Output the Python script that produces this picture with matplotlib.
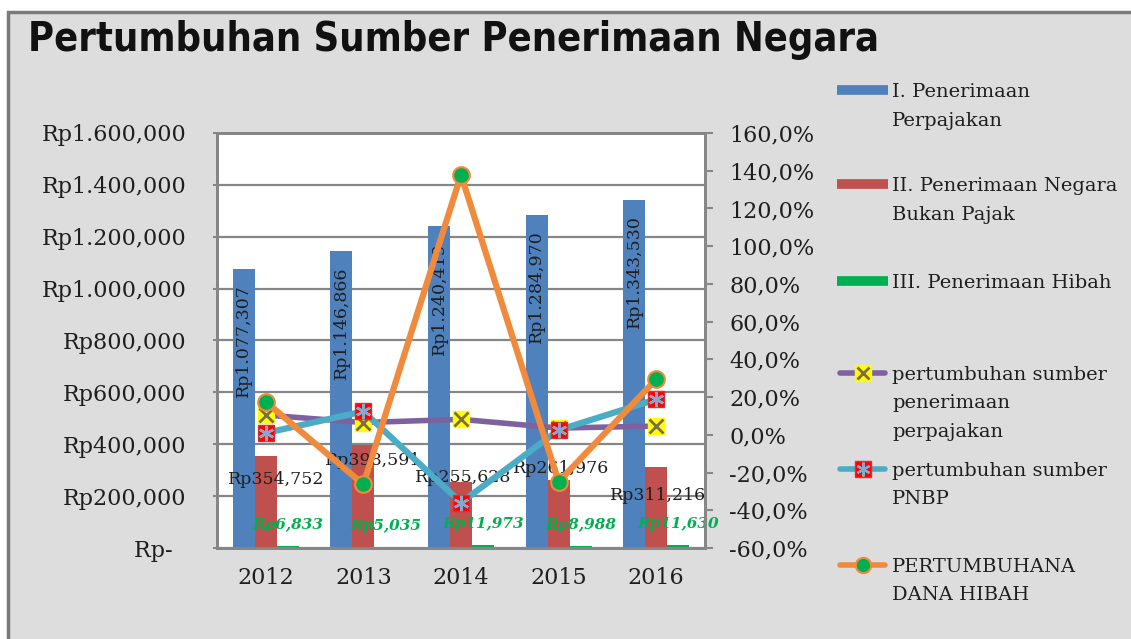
"""
Pertumbuhan Sumber Penerimaan Negara: bars (penerimaan) + growth lines on a
secondary percent axis. Saves out.png (1131x639).
"""
import numpy as np
import matplotlib.pyplot as plt
from matplotlib.patches import Rectangle
from matplotlib.lines import Line2D

YEARS = ["2012", "2013", "2014", "2015", "2016"]

# Penerimaan (Rp miliar)
PAJAK = [1077307, 1146866, 1240419, 1284970, 1343530]
PNBP = [354752, 398591, 255628, 261976, 311216]
HIBAH = [6833, 5035, 11973, 8988, 11630]

# Pertumbuhan (%)
GROWTH_PAJAK = [10.5, 6.5, 8.2, 3.6, 4.6]
GROWTH_PNBP = [1.0, 12.4, -35.9, 2.5, 18.8]
GROWTH_HIBAH = [17.5, -26.3, 137.8, -24.9, 29.4]

LEFT_TICKS = [0, 200000, 400000, 600000, 800000, 1000000, 1200000, 1400000, 1600000]
RIGHT_TICKS = [-60, -40, -20, 0, 20, 40, 60, 80, 100, 120, 140, 160]

W, H = 1131, 639
SERIF = ["DejaVu Serif"]
TXT = "#1e1e1e"
GRAY = "#868686"

C_BLUE, C_RED, C_GREEN = "#4F81BD", "#C0504D", "#00B050"
C_PURPLE, C_TEAL, C_ORANGE = "#7E62A0", "#4BACC6", "#F08A3C"


def rp(v):
    if v == 0:
        return "Rp-  "
    if v >= 1000000:
        return f"Rp{v // 1000000}.{(v // 1000) % 1000:03d},{v % 1000:03d}"
    return f"Rp{v:,}"


def pct(v):
    return f"{v:.1f}%".replace(".", ",")


fig = plt.figure(figsize=(W / 100, H / 100), dpi=100, facecolor="white")

# grey panel with a frame on left/top
fig.patches.append(Rectangle((8 / W, -0.05), 1.0, 1 - 12 / H + 0.05,
                             transform=fig.transFigure, facecolor="#dddddd",
                             edgecolor="#7a7a7a", lw=2.5, zorder=-10))

fig.text(28 / W, 1 - 40 / H, "Pertumbuhan Sumber Penerimaan Negara",
         fontsize=28.5, fontweight="bold", fontstretch="condensed",
         va="center", ha="left", family=["DejaVu Sans"], color="#111111")

ax = fig.add_axes([217 / W, (H - 548) / H, (705 - 217) / W, (548 - 133) / H])
ax.set_facecolor("white")
x = np.arange(len(YEARS))
bw = 0.225

ax.bar(x - bw, PAJAK, bw, color=C_BLUE, zorder=2)
ax.bar(x, PNBP, bw, color=C_RED, zorder=2)
ax.bar(x + bw, HIBAH, bw, color=C_GREEN, zorder=2)

ax.set_xlim(-0.5, len(YEARS) - 0.5)
ax.set_ylim(0, 1600000)
ax.set_yticks(LEFT_TICKS)
ax.set_yticklabels([rp(v) for v in LEFT_TICKS], fontsize=16, family=SERIF, color=TXT)
ax.set_xticks(x)
ax.set_xticklabels(YEARS, fontsize=16, family=SERIF, color=TXT)
ax.tick_params(axis="x", length=0, pad=14)
ax.tick_params(axis="y", length=3, width=1.5, color=GRAY, pad=19)
ax.grid(axis="y", color=GRAY, lw=1.6, zorder=1)
ax.set_axisbelow(True)
for s in ax.spines.values():
    s.set_color(GRAY)
    s.set_linewidth(2)

# bar labels
for xi, v in zip(x, PAJAK):
    ax.annotate(rp(v), (xi - bw, v), xytext=(0, -16), textcoords="offset pixels",
                rotation=90, ha="center", va="top", fontsize=12.5,
                family=SERIF, color=TXT, zorder=3)

pnbp_off = [(10, -24), (10, -16), (2, 4), (3, 12), (2, -28)]
for xi, v, (dx, dy) in zip(x, PNBP, pnbp_off):
    ax.annotate(rp(v), (xi, v), xytext=(dx, dy), textcoords="offset pixels",
                ha="center", va="center", fontsize=12.5, family=SERIF,
                color=TXT, zorder=3)

for xi, v in zip(x, HIBAH):
    ax.annotate(rp(v), (xi + bw, v), xytext=(0, 21), textcoords="offset pixels",
                ha="center", va="center", fontsize=11, family=SERIF,
                fontweight="bold", fontstyle="italic", color=C_GREEN, zorder=3)

# growth lines on secondary axis
ax2 = ax.twinx()
ax2.set_ylim(-60, 160)
ax2.set_yticks(RIGHT_TICKS)
ax2.set_yticklabels([pct(v) for v in RIGHT_TICKS], fontsize=16, family=SERIF, color=TXT)
ax2.tick_params(axis="y", length=6, width=1.5, color=GRAY, pad=11.5)
for s in ax2.spines.values():
    s.set_color(GRAY)
    s.set_linewidth(2)

ax2.plot(x, GROWTH_PAJAK, color=C_PURPLE, lw=4, solid_capstyle="round", zorder=3)
ax2.plot(x, GROWTH_PAJAK, ls="none", marker="s", ms=12, mfc="#FFFF00",
         mec="#FFFF00", zorder=4)
ax2.plot(x, GROWTH_PAJAK, ls="none", marker="x", ms=10, mew=2,
         mec="#7d6b4a", zorder=4)

ax2.plot(x, GROWTH_PNBP, color=C_TEAL, lw=4.5, solid_capstyle="round", zorder=5)
ax2.plot(x, GROWTH_PNBP, ls="none", marker="s", ms=12, mfc="#FF0000",
         mec="#D83030", zorder=6)
ax2.plot(x, GROWTH_PNBP, ls="none", marker=(6, 2, 0), ms=11, mew=1.8,
         mec="#8AA6C8", zorder=6)

ax2.plot(x, GROWTH_HIBAH, color=C_ORANGE, lw=4.5, solid_capstyle="round", zorder=7)
ax2.plot(x, GROWTH_HIBAH, ls="none", marker="o", ms=12, mfc=C_GREEN,
         mec=C_ORANGE, mew=1.5, zorder=8)

# legend drawn by hand on a pixel-space overlay
lg = fig.add_axes([0, 0, 1, 1], facecolor="none")
lg.set_xlim(0, W)
lg.set_ylim(H, 0)
lg.axis("off")

hx0, hx1, tx = 837, 888, 892
entries = [
    ("bar", C_BLUE, 90, ["I. Penerimaan", "Perpajakan"]),
    ("bar", C_RED, 184, ["II. Penerimaan Negara", "Bukan Pajak"]),
    ("bar", C_GREEN, 281, ["III. Penerimaan Hibah"]),
    ("pajak", C_PURPLE, 373, ["pertumbuhan sumber", "penerimaan", "perpajakan"]),
    ("pnbp", C_TEAL, 469, ["pertumbuhan sumber", "PNBP"]),
    ("hibah", C_ORANGE, 565, ["PERTUMBUHANA", "DANA HIBAH"]),
]
for kind, col, y, lines in entries:
    if kind == "bar":
        lg.add_line(Line2D([hx0, hx1], [y, y], color=col, lw=7, solid_capstyle="butt"))
    else:
        lg.add_line(Line2D([hx0 + 3, hx1 - 3], [y, y], color=col, lw=4,
                           solid_capstyle="round"))
        mx = (hx0 + hx1) / 2
        if kind == "pajak":
            lg.plot([mx], [y], marker="s", ms=11, mfc="#FFFF00", mec="#FFFF00")
            lg.plot([mx], [y], marker="x", ms=9, mew=2, mec="#7d6b4a")
        elif kind == "pnbp":
            lg.plot([mx], [y], marker="s", ms=11, mfc="#FF0000", mec="#D83030")
            lg.plot([mx], [y], marker=(6, 2, 0), ms=10, mew=1.6, mec="#8AA6C8")
        else:
            lg.plot([mx], [y], marker="o", ms=11, mfc=C_GREEN, mec=C_ORANGE, mew=1.5)
    for i, t in enumerate(lines):
        lg.text(tx, y + 2 + i * 28.5, t, fontsize=14, family=SERIF,
                color=TXT, ha="left", va="center")

fig.savefig("out.png", dpi=100, facecolor=fig.get_facecolor())
